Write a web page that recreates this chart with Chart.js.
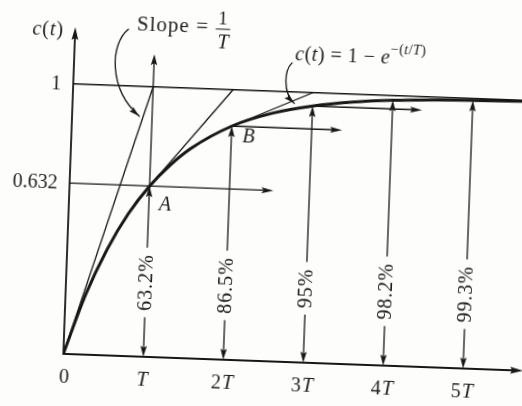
<!DOCTYPE html>
<html>
<head>
<meta charset="utf-8">
<script src="https://cdn.jsdelivr.net/npm/chart.js@4/dist/chart.umd.min.js"></script>
<style>
  html, body { margin: 0; padding: 0; width: 522px; height: 406px; overflow: hidden; background: #fdfdfb; }
  /* the printed figure sits slightly turned on the page */
  #wrap { position: absolute; left: -29px; top: -27px; width: 580px; height: 460px; transform: rotate(2.1deg); transform-origin: 50% 50%; }
</style>
</head>
<body>
<div id="wrap"><canvas id="chart" width="580" height="460"></canvas></div>
<script>
// time axis in units of T
const tickTimes = [0, 1, 2, 3, 4, 5];
const tickLabels = ['0', 'T', '2T', '3T', '4T', '5T'];
const yTickValues = [1, 0.632];
const yTickLabels = ['1', '0.632'];

// step response c(t)
const curveTimes = [0, 0.25, 0.5, 0.75, 1, 1.25, 1.5, 2, 2.5, 3, 3.5, 4, 4.5, 5, 5.75];
const curveValues = [0, 0.221, 0.393, 0.528, 0.632, 0.713, 0.777, 0.865, 0.918, 0.95, 0.97, 0.982, 0.989, 0.993, 0.997];

// dimension arrows at each multiple of T
const markTimes = [1, 2, 3, 4, 5];
const markValues = [0.632, 0.865, 0.95, 0.982, 0.993];
const markLabels = ['63.2%', '86.5%', '95%', '98.2%', '99.3%'];

// tangents, each reaching the final value one T later
const tangentTimes = [0, 1, 2];
const tangentValues = [0, 0.632, 0.865];

// horizontal arrows
const levelValues = [0.632, 0.865, 0.95];
const levelFrom = [0, 2, 3];
const levelTo = [2.55, 3.38, 4.37];

const xMax = 5.75;
const yMax = 1.21;

// leader arrows for the two callouts (start, control, control, tip)
const slopeArrow = [[0.664, 1.209], [0.441, 1.153], [0.441, 0.986], [0.84, 0.889]];
const curveArrow = [[2.724, 1.107], [2.63, 1.079], [2.62, 0.997], [2.77, 0.957]];

const ink = '#171717';
const serif = '"Liberation Serif", "DejaVu Serif", serif';

function fontFor(r, size) {
  return (r.i ? 'italic ' : '') + (r.s || size) + 'px ' + serif;
}

function runsWidth(ctx, runs, size) {
  let w = 0;
  for (const r of runs) {
    ctx.font = fontFor(r, size);
    w += ctx.measureText(r.t).width;
  }
  return w;
}

// text made of upright and italic pieces
function drawRuns(ctx, runs, x, y, size, align, spacing = '0px') {
  ctx.letterSpacing = spacing;
  const w = runsWidth(ctx, runs, size);
  let cx = align === 'center' ? x - w / 2 : align === 'right' ? x - w : x;
  ctx.textAlign = 'left';
  ctx.textBaseline = 'middle';
  for (const r of runs) {
    ctx.font = fontFor(r, size);
    ctx.fillText(r.t, cx, y + (r.dy || 0));
    cx += ctx.measureText(r.t).width;
  }
  ctx.letterSpacing = '0px';
}

function tickRuns(label) {
  return label.split(/(T)/).filter(Boolean).map(s => ({ t: s, i: s === 'T' }));
}

function arrowHead(ctx, x, y, ang, len = 11, half = 3.2) {
  ctx.save();
  ctx.translate(x, y);
  ctx.rotate(ang);
  ctx.beginPath();
  ctx.moveTo(0, 0);
  ctx.lineTo(-len, -half);
  ctx.lineTo(-len * 0.82, 0);
  ctx.lineTo(-len, half);
  ctx.closePath();
  ctx.fill();
  ctx.restore();
}

function line(ctx, x1, y1, x2, y2) {
  ctx.beginPath();
  ctx.moveTo(x1, y1);
  ctx.lineTo(x2, y2);
  ctx.stroke();
}

const UP = -Math.PI / 2, DOWN = Math.PI / 2, RIGHT = 0;

const annotations = {
  id: 'annotations',
  afterDatasetsDraw(chart) {
    const ctx = chart.ctx;
    const X = v => chart.scales.x.getPixelForValue(v);
    const Y = v => chart.scales.y.getPixelForValue(v);
    ctx.save();
    ctx.strokeStyle = ink;
    ctx.fillStyle = ink;
    ctx.lineCap = 'round';

    // axes
    ctx.lineWidth = 1.8;
    line(ctx, X(0), Y(0), X(0), Y(yMax) + 6);
    arrowHead(ctx, X(0), Y(yMax), UP, 13, 3.4);
    line(ctx, X(0), Y(0), X(xMax) - 6, Y(0));
    arrowHead(ctx, X(xMax), Y(0), RIGHT, 13, 3.4);

    ctx.lineWidth = 1.3;

    // horizontal arrows
    levelValues.forEach((v, i) => {
      line(ctx, X(levelFrom[i]), Y(v), X(levelTo[i]) - 6, Y(v));
      arrowHead(ctx, X(levelTo[i]), Y(v), RIGHT, 12, 3);
    });

    // vertical dimension arrows with rotated percentage labels
    markTimes.forEach((t, i) => {
      const x = X(t);
      const yc = Y(0.275);
      ctx.font = '20px ' + serif;
      ctx.letterSpacing = '1px';
      const w = ctx.measureText(markLabels[i]).width;
      const top = t === 1 ? 1.12 : markValues[i];
      line(ctx, x, Y(0) - 4, x, yc + w / 2 + 7);
      line(ctx, x, yc - w / 2 - 7, x, Y(top) + 4);
      arrowHead(ctx, x, Y(markValues[i]), UP);
      arrowHead(ctx, x, Y(0), DOWN);
      if (t === 1) arrowHead(ctx, x, Y(top), UP);
      ctx.save();
      ctx.translate(x, yc);
      ctx.rotate(-Math.PI / 2);
      ctx.textAlign = 'center';
      ctx.textBaseline = 'middle';
      ctx.fillText(markLabels[i], 0, 1);
      ctx.restore();
      ctx.letterSpacing = '0px';
    });

    // callout leaders
    [slopeArrow, curveArrow].forEach(p => {
      const pts = p.map(([a, b]) => [X(a), Y(b)]);
      ctx.beginPath();
      ctx.moveTo(pts[0][0], pts[0][1]);
      ctx.bezierCurveTo(pts[1][0], pts[1][1], pts[2][0], pts[2][1], pts[3][0], pts[3][1]);
      ctx.stroke();
      const ang = Math.atan2(pts[3][1] - pts[2][1], pts[3][0] - pts[2][0]);
      arrowHead(ctx, pts[3][0], pts[3][1], ang, 11, 3);
    });

    // tick labels
    ctx.fillStyle = '#1e1e1e';
    tickTimes.forEach((t, i) => {
      drawRuns(ctx, tickRuns(tickLabels[i]), X(t) + (t === 0 ? 2 : 0), Y(0) + 24, 20, 'center', '1px');
    });
    yTickValues.forEach((v, i) => {
      drawRuns(ctx, [{ t: yTickLabels[i] }], X(0) - 12, Y(v) + 1, 20, 'right');
    });

    // axis title
    drawRuns(ctx, [{ t: 'c', i: 1 }, { t: '(' }, { t: 't', i: 1 }, { t: ')' }],
      X(0) - 11, Y(1.197), 20, 'right', '1px');

    // point names
    drawRuns(ctx, [{ t: 'A', i: 1 }], X(1) + 16, Y(0.632) + 19, 20, 'center');
    drawRuns(ctx, [{ t: 'B', i: 1 }], X(2) + 17, Y(0.865) + 11, 20, 'center');

    // Slope = 1/T
    drawRuns(ctx, [{ t: 'Slope =' }], X(0.77), Y(1.228), 21, 'left', '1px');
    drawRuns(ctx, [{ t: '1' }], X(1.84), Y(1.258), 19, 'center');
    drawRuns(ctx, [{ t: 'T', i: 1 }], X(1.85), Y(1.17), 20, 'center');
    ctx.lineWidth = 1;
    line(ctx, X(1.76), Y(1.222), X(1.93), Y(1.222));

    // c(t) = 1 - e^-(t/T)
    const sup = { s: 14, dy: -8 };
    drawRuns(ctx, [
      { t: 'c', i: 1 }, { t: '(' }, { t: 't', i: 1 }, { t: ')' }, { t: ' = 1 − ' }, { t: 'e', i: 1 },
      { t: '−(', ...sup }, { t: 't', i: 1, ...sup }, { t: '/', ...sup }, { t: 'T', i: 1, ...sup }, { t: ')', ...sup }
    ], X(2.76), Y(1.138), 20, 'left', '0.5px');

    ctx.restore();
  }
};

const thin = { borderColor: ink, borderWidth: 1.3, pointRadius: 0, showLine: true, order: 1 };

const datasets = [
  {
    data: curveTimes.map((t, i) => ({ x: t, y: curveValues[i] })),
    borderColor: ink,
    borderWidth: 3,
    pointRadius: 0,
    showLine: true,
    cubicInterpolationMode: 'monotone',
    order: 0
  },
  { ...thin, data: [{ x: 0, y: 1 }, { x: xMax, y: 1 }] },
  ...tangentTimes.map((t, i) => ({ ...thin, data: [{ x: t, y: tangentValues[i] }, { x: t + 1, y: 1 }] }))
];

new Chart(document.getElementById('chart'), {
  type: 'scatter',
  data: { datasets },
  options: {
    responsive: false,
    animation: false,
    layout: { padding: { left: 98, right: 22, top: 61, bottom: 72 } },
    scales: {
      x: { type: 'linear', min: 0, max: xMax, display: false },
      y: { type: 'linear', min: 0, max: yMax, display: false }
    },
    plugins: { legend: { display: false }, tooltip: { enabled: false } }
  },
  plugins: [annotations]
});
</script>
</body>
</html>
